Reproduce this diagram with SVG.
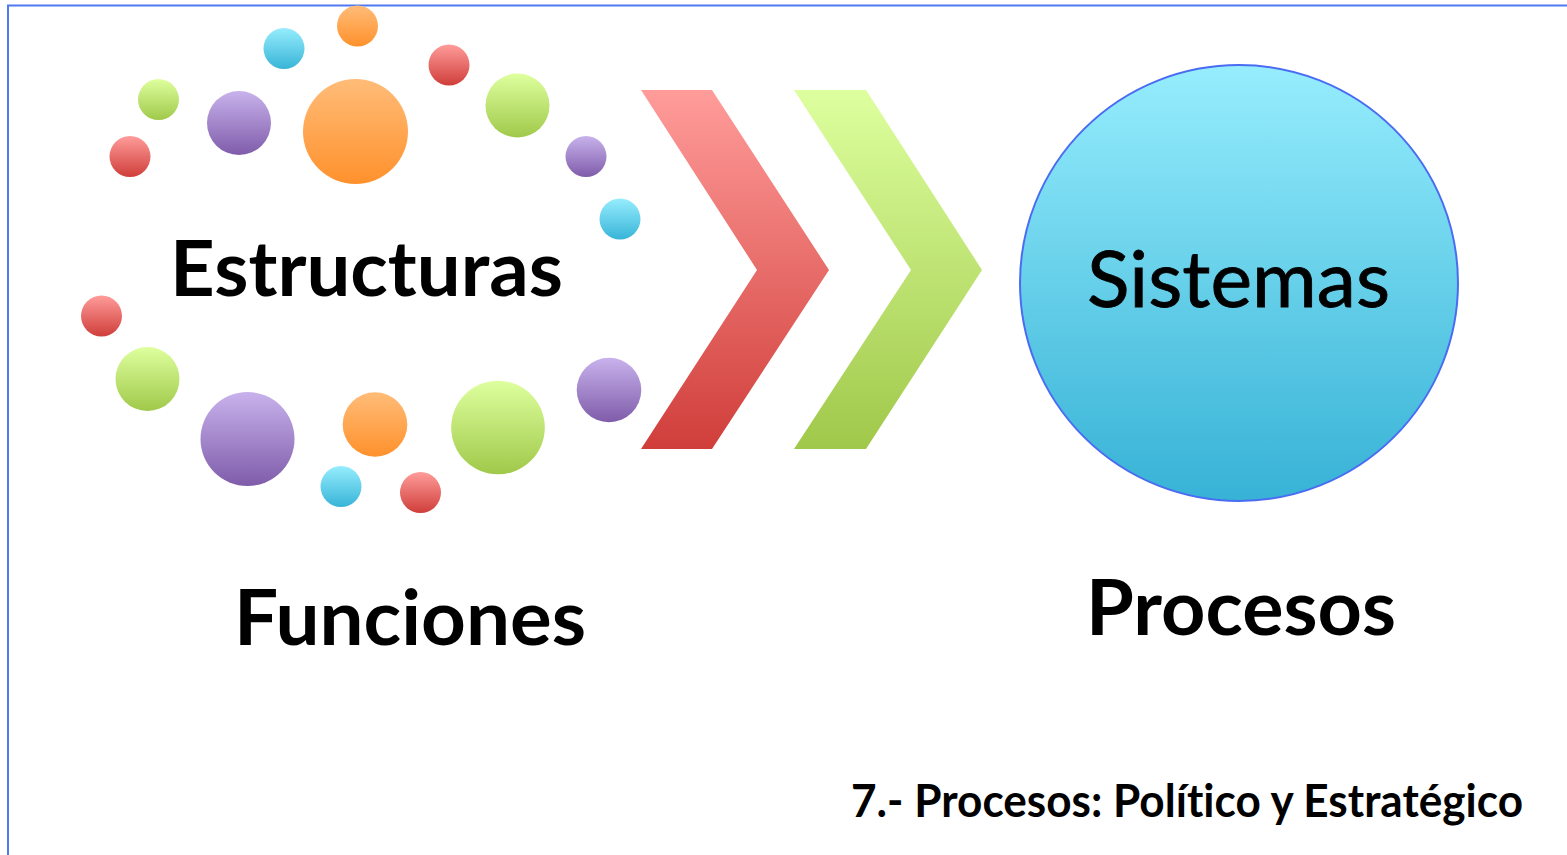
<svg xmlns="http://www.w3.org/2000/svg" width="1567" height="855" viewBox="0 0 1567 855">
<style>
text{font-variant-ligatures:none;font-feature-settings:"liga" 0,"dlig" 0}
.lbl{font-family:Lato,"Open Sans","Liberation Sans",sans-serif;font-weight:700;fill:#000}
.reg{font-family:Lato,"Open Sans","Liberation Sans",sans-serif;font-weight:400;fill:#000;stroke:#000;stroke-width:0.8}
</style>
<defs>
<linearGradient id="gO" x1="0" y1="0" x2="0" y2="1"><stop offset="0" stop-color="#FFBC78"/><stop offset="1" stop-color="#FF912C"/></linearGradient>
<linearGradient id="gC" x1="0" y1="0" x2="0" y2="1"><stop offset="0" stop-color="#96EDFD"/><stop offset="1" stop-color="#38B4D8"/></linearGradient>
<linearGradient id="gR" x1="0" y1="0" x2="0" y2="1"><stop offset="0" stop-color="#FF9C9A"/><stop offset="1" stop-color="#CF3E3A"/></linearGradient>
<linearGradient id="gG" x1="0" y1="0" x2="0" y2="1"><stop offset="0" stop-color="#DEFF9E"/><stop offset="1" stop-color="#A0C94A"/></linearGradient>
<linearGradient id="gP" x1="0" y1="0" x2="0" y2="1"><stop offset="0" stop-color="#C8B2EC"/><stop offset="1" stop-color="#7F5CAA"/></linearGradient>
<linearGradient id="gRC" gradientUnits="userSpaceOnUse" x1="0" y1="90" x2="0" y2="449"><stop offset="0" stop-color="#FF9C9A"/><stop offset="1" stop-color="#D03E3A"/></linearGradient>
<linearGradient id="gGC" gradientUnits="userSpaceOnUse" x1="0" y1="90" x2="0" y2="449"><stop offset="0" stop-color="#DDFF9E"/><stop offset="1" stop-color="#A0C84A"/></linearGradient>
<linearGradient id="gS" x1="0" y1="0" x2="0" y2="1"><stop offset="0" stop-color="#96EDFD"/><stop offset="1" stop-color="#37B2D6"/></linearGradient>
</defs>
<rect width="1567" height="855" fill="#fff"/>
<rect id="frame" x="8" y="5.5" width="1600" height="900" fill="none" stroke="#5078F0" stroke-width="2"/>
<g id="bubbles">
<circle cx="357.5" cy="26" r="20.5" fill="url(#gO)"/>
<circle cx="284" cy="48.5" r="20.5" fill="url(#gC)"/>
<circle cx="449" cy="65" r="20.5" fill="url(#gR)"/>
<circle cx="158.5" cy="99.5" r="20.5" fill="url(#gG)"/>
<circle cx="239" cy="123" r="32" fill="url(#gP)"/>
<circle cx="355.5" cy="131.5" r="52.5" fill="url(#gO)"/>
<circle cx="517.5" cy="105.5" r="32" fill="url(#gG)"/>
<circle cx="130" cy="156.5" r="20.5" fill="url(#gR)"/>
<circle cx="586" cy="156.5" r="20.5" fill="url(#gP)"/>
<circle cx="620" cy="219" r="20.5" fill="url(#gC)"/>
<circle cx="101.5" cy="316" r="20.5" fill="url(#gR)"/>
<circle cx="147.5" cy="379" r="32" fill="url(#gG)"/>
<circle cx="247.5" cy="439" r="47" fill="url(#gP)"/>
<circle cx="375" cy="424.5" r="32.3" fill="url(#gO)"/>
<circle cx="498" cy="427.5" r="46.8" fill="url(#gG)"/>
<circle cx="609" cy="390" r="32.3" fill="url(#gP)"/>
<circle cx="341" cy="486.5" r="20.5" fill="url(#gC)"/>
<circle cx="420.5" cy="492.5" r="20.5" fill="url(#gR)"/>
</g>
<g id="estructuras"><text class="lbl" x="170" y="296" font-size="77" textLength="393" lengthAdjust="spacingAndGlyphs">Estructuras</text></g>
<g id="funciones"><text class="lbl" x="234" y="645" font-size="77" textLength="352" lengthAdjust="spacingAndGlyphs">Funciones</text></g>
<g id="connectors">
<polygon points="641,90 712,90 829,270 712,449 641,449 757,270" fill="url(#gRC)"/>
<polygon points="794,90 866,90 982,270 866,449 794,449 911,270" fill="url(#gGC)"/>
</g>
<g id="sistemas">
<ellipse cx="1239" cy="283" rx="219" ry="218" fill="url(#gS)" stroke="#4A6CF2" stroke-width="2"/>
<text class="reg" x="1087" y="307" font-size="78" textLength="303" lengthAdjust="spacingAndGlyphs">Sistemas</text>
</g>
<g id="procesos"><text class="lbl" x="1086" y="635" font-size="77" textLength="310" lengthAdjust="spacingAndGlyphs">Procesos</text></g>
<g id="title"><text class="lbl" x="851" y="817" font-size="46" textLength="672" lengthAdjust="spacingAndGlyphs">7.- Procesos: Político y Estratégico</text></g>
</svg>
